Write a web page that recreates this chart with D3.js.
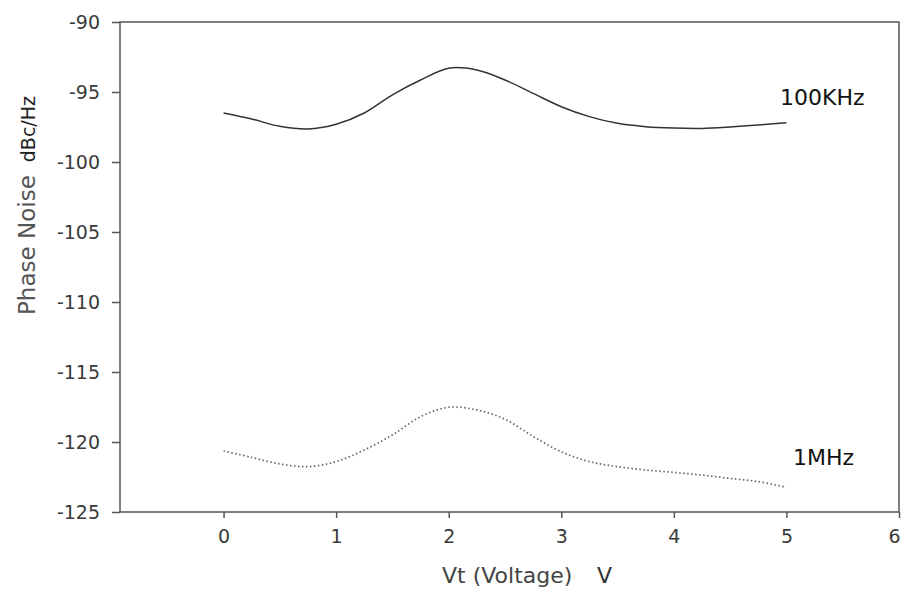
<!DOCTYPE html>
<html>
<head>
<meta charset="utf-8">
<script src="https://cdn.jsdelivr.net/npm/d3@7"></script>
<style>
  body { margin: 0; background: #fff; }
  text { font-family: "DejaVu Sans", sans-serif; }
</style>
</head>
<body>
<div id="chart"></div>
<script>
// voltage steps
var vt = [0, 0.25, 0.5, 0.75, 1, 1.25, 1.5, 1.75, 2, 2.25, 2.5, 2.75, 3,
          3.25, 3.5, 3.75, 4, 4.25, 4.5, 4.75, 5];
// phase noise at 100KHz offset
var pn100k = [-96.5, -96.93, -97.45, -97.64, -97.3, -96.5, -95.2, -94.14, -93.3, -93.43,
              -94.14, -95.1, -96.05, -96.76, -97.24, -97.48, -97.58, -97.6, -97.5, -97.36, -97.19];
// phase noise at 1MHz offset
var pn1m = [-120.64, -121.1, -121.57, -121.76, -121.4, -120.57, -119.5, -118.19, -117.52, -117.71,
            -118.38, -119.6, -120.7, -121.4, -121.76, -122.0, -122.17, -122.36, -122.6, -122.83, -123.24];

var xTicks = [0, 1, 2, 3, 4, 5, 6];
var yTicks = [-90, -95, -100, -105, -110, -115, -120, -125];

var width = 904, height = 592;
var margin = { top: 22, right: 5, bottom: 80, left: 120 };
var plotRight = width - margin.right,
    plotBottom = height - margin.bottom;

var svg = d3.select("#chart")
  .append("svg")
    .attr("width", width)
    .attr("height", height);

var x = d3.scaleLinear()
  .domain([-0.92, 6])
  .range([margin.left, plotRight]);

var y = d3.scaleLinear()
  .domain([-125, -90])
  .range([plotBottom, margin.top]);

var axisColor = "#555";

// x axis (ticks below)
var gx = svg.append("g")
  .attr("transform", "translate(0," + plotBottom + ")")
  .call(d3.axisBottom(x).tickValues(xTicks).tickSize(6).tickPadding(12).tickFormat(d3.format("d")));
gx.select(".domain").remove();
gx.selectAll("line").attr("stroke", axisColor).attr("stroke-width", 1.5);
gx.selectAll("text").attr("font-size", 19).attr("fill", "#3a3a3a");
// last label sits on the right edge, pull it in a little
gx.selectAll("text").filter(function(d) { return d === 6; }).attr("dx", -5);

// y axis (ticks left)
var gy = svg.append("g")
  .attr("transform", "translate(" + margin.left + ",0)")
  .call(d3.axisLeft(y).tickValues(yTicks).tickSize(8).tickPadding(12).tickFormat(function(d) { return String(d); }));
gy.select(".domain").remove();
gy.selectAll("line").attr("stroke", axisColor).attr("stroke-width", 1.5);
gy.selectAll("text").attr("font-size", 19).attr("fill", "#3a3a3a");

// frame
svg.append("rect")
  .attr("x", margin.left)
  .attr("y", margin.top)
  .attr("width", plotRight - margin.left)
  .attr("height", plotBottom - margin.top)
  .attr("fill", "none")
  .attr("stroke", axisColor)
  .attr("stroke-width", 1.5);

var line = d3.line()
  .x(function(d, i) { return x(vt[i]); })
  .y(function(d) { return y(d); })
  .curve(d3.curveCatmullRom);

svg.append("path")
  .datum(pn100k)
  .attr("d", line)
  .attr("fill", "none")
  .attr("stroke", "#333")
  .attr("stroke-width", 1.5);

svg.append("path")
  .datum(pn1m)
  .attr("d", line)
  .attr("fill", "none")
  .attr("stroke", "#666")
  .attr("stroke-width", 1.7)
  .attr("stroke-dasharray", "1.5,2.5");

// series labels
svg.append("text")
  .attr("x", 780)
  .attr("y", 105)
  .attr("font-size", 22)
  .attr("fill", "#111")
  .text("100KHz");

svg.append("text")
  .attr("x", 793)
  .attr("y", 465)
  .attr("font-size", 22)
  .attr("fill", "#111")
  .text("1MHz");

// axis titles
svg.append("text")
  .attr("x", 442)
  .attr("y", 583)
  .attr("font-size", 22)
  .attr("fill", "#444")
  .text("Vt (Voltage)");

svg.append("text")
  .attr("x", 597)
  .attr("y", 583)
  .attr("font-size", 22)
  .attr("fill", "#333")
  .text("V");

var yTitle = svg.append("text")
  .attr("transform", "translate(35,315) rotate(-90)");
yTitle.append("tspan").attr("font-size", 23).attr("fill", "#555").text("Phase Noise");
yTitle.append("tspan").attr("font-size", 19).attr("fill", "#222").attr("dx", 13).text("dBc/Hz");
</script>
</body>
</html>
